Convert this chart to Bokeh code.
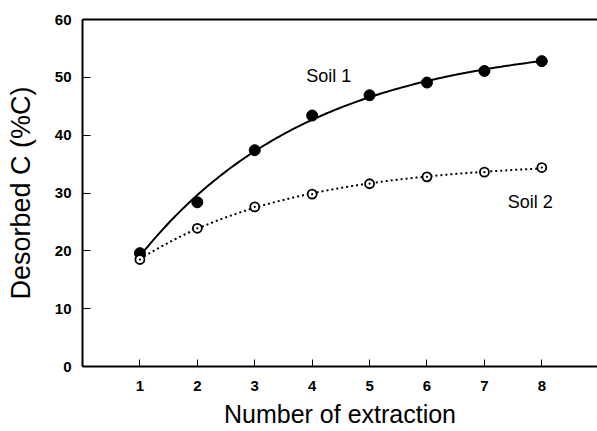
import numpy as np
from bokeh.plotting import figure
from bokeh.models import Range1d, LinearAxis, FixedTicker
from bokeh.embed import file_html
from bokeh.resources import INLINE
from bokeh.core.properties import value

# Cumulative desorbed carbon per successive extraction
extraction = [1, 2, 3, 4, 5, 6, 7, 8]
soil1 = [19.6, 28.4, 37.4, 43.4, 46.9, 49.1, 51.1, 52.8]
soil2 = [18.5, 23.9, 27.6, 29.8, 31.6, 32.8, 33.6, 34.4]
y_ticks = [0, 10, 20, 30, 40, 50, 60]

FONT = "Liberation Sans"


def fit_saturation(x, y):
    """Least-squares fit of y = a - b*exp(-k*x); returns a callable."""
    x = np.asarray(x, float)
    y = np.asarray(y, float)
    best = None
    for k in np.linspace(0.01, 2.0, 4000):
        e = np.exp(-k * x)
        A = np.column_stack([np.ones_like(x), -e])
        coef, *_ = np.linalg.lstsq(A, y, rcond=None)
        r = float(np.sum((A @ coef - y) ** 2))
        if best is None or r < best[0]:
            best = (r, k, coef)
    _, k, (a, b) = best
    return lambda t: a - b * np.exp(-k * t)


xs = np.linspace(extraction[0], extraction[-1], 200)
curve1 = fit_saturation(extraction, soil1)(xs)
curve2 = fit_saturation(extraction, soil2)(xs)

p = figure(
    width=597, height=431,
    output_backend="svg", toolbar_location=None,
    x_range=Range1d(0, 8.97), y_range=Range1d(0, 60),
    min_border_left=82, min_border_right=0,
    min_border_top=19, min_border_bottom=65,
)
p.xgrid.grid_line_color = None
p.ygrid.grid_line_color = None
p.outline_line_color = None
p.background_fill_color = "white"
p.border_fill_color = "white"

# fitted curves
p.line(xs, curve1, line_color="black", line_width=2)
p.line(xs, curve2, line_color="black", line_width=2, line_dash="2 3")

# measured points
p.scatter(extraction, soil1, marker="circle", size=11,
          fill_color="black", line_color="black")
p.scatter(extraction, soil2, marker="circle_dot", size=9,
          fill_color="white", line_color="black", line_width=1.8)

# series labels
p.text(x=[4.29], y=[50.3], text=["Soil 1"], text_align="center",
       text_baseline="middle", text_font=value(FONT),
       text_font_size="18px", text_color="black")
p.text(x=[7.8], y=[28.5], text=["Soil 2"], text_align="center",
       text_baseline="middle", text_font=value(FONT),
       text_font_size="18px", text_color="black")

# x axis
xa = p.xaxis[0]
xa.ticker = FixedTicker(ticks=extraction)
xa.axis_label = "Number of extraction"
xa.axis_line_width = 2
xa.major_tick_in = 7
xa.major_tick_out = 0
xa.major_tick_line_width = 1
xa.minor_tick_line_color = None
xa.major_label_standoff = 14
xa.major_label_text_font = FONT
xa.major_label_text_font_size = "15px"
xa.major_label_text_font_style = "bold"
xa.major_label_text_color = "black"
xa.axis_label_text_font = FONT
xa.axis_label_text_font_size = "25px"
xa.axis_label_text_font_style = "normal"
xa.axis_label_text_color = "black"
xa.axis_label_standoff = 6

# y axis
ya = p.yaxis[0]
ya.ticker = FixedTicker(ticks=y_ticks)
ya.axis_label = "Desorbed C (%C)"
ya.axis_line_width = 2
ya.major_tick_in = 8
ya.major_tick_out = 0
ya.major_tick_line_width = 1
ya.minor_tick_line_color = None
ya.major_label_standoff = 11
ya.major_label_text_font = FONT
ya.major_label_text_font_size = "15px"
ya.major_label_text_font_style = "bold"
ya.major_label_text_color = "black"
ya.axis_label_text_font = FONT
ya.axis_label_text_font_size = "27px"
ya.axis_label_text_font_style = "normal"
ya.axis_label_text_color = "black"
ya.axis_label_standoff = 16

# top border line of the frame
top = LinearAxis(ticker=FixedTicker(ticks=[]), axis_line_width=2,
                 major_tick_line_color=None, minor_tick_line_color=None)
p.add_layout(top, "above")

open("out.html", "w").write(file_html(p, INLINE))
